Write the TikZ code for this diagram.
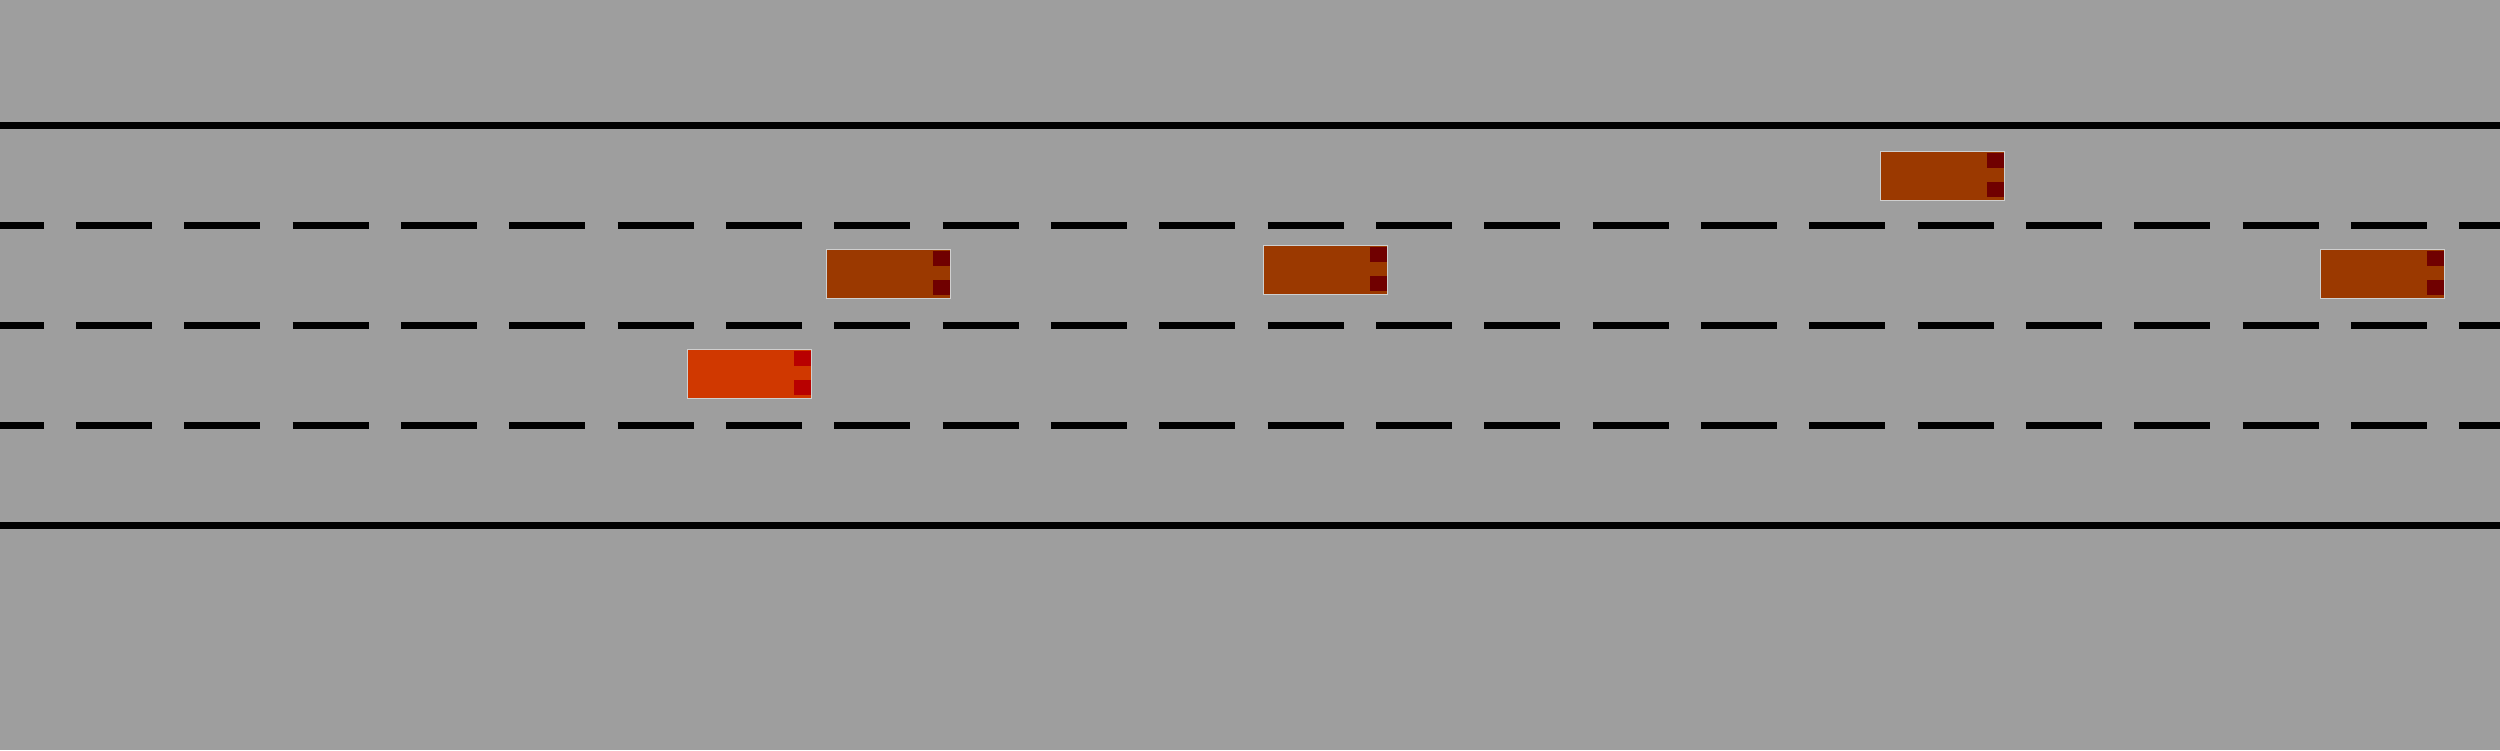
\documentclass[tikz,border=0pt]{standalone}
\usepackage{tikz}
\usetikzlibrary{positioning}
\definecolor{Asphalt}{RGB}{158,158,158}
\definecolor{EgoBody}{HTML}{D03800}
\definecolor{EgoLamp}{HTML}{B80000}
\definecolor{CarBody}{HTML}{9B3900}
\definecolor{CarLamp}{HTML}{700000}
\definecolor{Rim}{HTML}{CFCFCF}

\begin{document}
\begin{tikzpicture}[x=0.01cm,y=-0.01cm,
    car/.style={draw=Rim,line width=0.01cm,fill=CarBody,
      minimum width=1.24cm,minimum height=0.49cm,inner sep=0pt,outer sep=0pt},
    edge/.style={line width=0.07cm,black},
    lane/.style={edge,dash pattern=on 0.76cm off 0.3227cm,dash phase=0.3227cm}
  ]
    \fill[Asphalt] (0,0) rectangle (2500,750);
    \useasboundingbox (0,0) rectangle (2500,750);
    % road edges and lane markings
    \draw[edge] (0,125.5) -- (2500,125.5);
    \draw[edge] (0,525.5) -- (2500,525.5);
    \foreach \y in {225.5,325.5,425.5}\draw[lane] (0,\y) -- (2500,\y);
    % vehicles
    \node[car,fill=EgoBody] (ego) at (749.5,374) {};
    \node[car] (c1) at (888.5,274) {};
    \node[car] (c2) at (1325.5,270) {};
    \node[car] (c3) at (1942.5,176) {};
    \node[car] (c4) at (2382.5,274) {};
    \foreach \n/\l in {ego/EgoLamp,c1/CarLamp,c2/CarLamp,c3/CarLamp,c4/CarLamp}{
      \fill[\l] ([shift={(44.5,-23)}]\n.center) rectangle +(16.7,14.7);
      \fill[\l] ([shift={(44.5,6)}]\n.center) rectangle +(16.7,15);
    }
  \end{tikzpicture}
\end{document}
